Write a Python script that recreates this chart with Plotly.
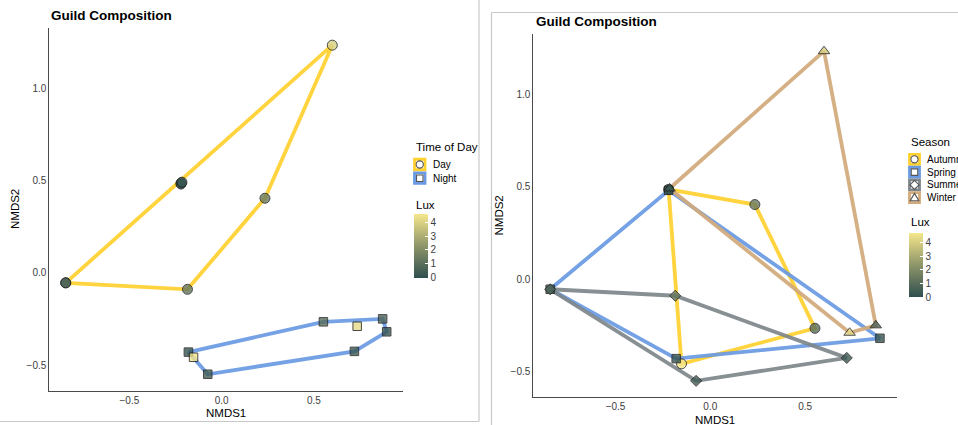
import plotly.graph_objects as go

W, H = 958, 425

# NMDS ordination scores for 16 samples
nmds1 = [0.600, -0.220, -0.220, -0.215, 0.235, -0.845, -0.845, -0.185,
         -0.180, -0.152, -0.075, 0.552, 0.720, 0.735, 0.873, 0.895]
nmds2 = [1.232, 0.485, 0.480, 0.490, 0.403, -0.055, -0.055, -0.090,
         -0.430, -0.458, -0.550, -0.266, -0.426, -0.290, -0.250, -0.320]
time_of_day = ["Day"] * 8 + ["Night"] * 8
season = ["Winter", "Autumn", "Spring", "Winter", "Autumn", "Spring", "Summer", "Summer",
          "Spring", "Autumn", "Summer", "Autumn", "Summer", "Winter", "Winter", "Spring"]
lux = [4.0, 0.1, 0.1, 0.3, 1.4, 0.8, 0.6, 1.3,
       0.2, 4.6, 0.5, 1.0, 0.3, 4.3, 0.7, 0.2]

time_levels = ["Day", "Night"]
season_levels = ["Autumn", "Spring", "Summer", "Winter"]
lux_ticks = [0, 1, 2, 3, 4]
axis_ticks_x = [-0.5, 0.0, 0.5]
axis_ticks_y = [-0.5, 0.0, 0.5, 1.0]

group_colors = {"Day": "#FFD12E", "Night": "#6A9AE3",
                "Autumn": "#FFD12E", "Spring": "#6A9AE3",
                "Summer": "#7E878C", "Winter": "#D2AA7B"}
group_symbols = {"Day": "circle", "Night": "square",
                 "Autumn": "circle", "Spring": "square",
                 "Summer": "diamond", "Winter": "triangle-up"}
symbol_sizes = {"circle": 10, "square": 8.5, "diamond": 8.5, "triangle-up": 10}

FONT = "Liberation Sans"
lux_scale = [[0.0, "#2F4F4F"], [0.5, "#8E9569"], [1.0, "#F5E78C"]]


def px(x):
    return x / W


def py(y):
    return 1 - y / H


def convex_hull(points):
    pts = sorted(set(points))
    if len(pts) < 3:
        return pts

    def cross(o, a, b):
        return (a[0] - o[0]) * (b[1] - o[1]) - (a[1] - o[1]) * (b[0] - o[0])

    lower, upper = [], []
    for p in pts:
        while len(lower) >= 2 and cross(lower[-2], lower[-1], p) <= 0:
            lower.pop()
        lower.append(p)
    for p in reversed(pts):
        while len(upper) >= 2 and cross(upper[-2], upper[-1], p) <= 0:
            upper.pop()
        upper.append(p)
    return lower[:-1] + upper[:-1]


fig = go.Figure()


def add_panel(groups, levels, xa, ya, cax):
    # hull outlines
    for g in levels:
        idx = [i for i, v in enumerate(groups) if v == g]
        hull = convex_hull([(nmds1[i], nmds2[i]) for i in idx])
        hull = hull + hull[:1]
        fig.add_trace(go.Scatter(
            x=[p[0] for p in hull], y=[p[1] for p in hull], mode="lines",
            line=dict(color=group_colors[g], width=3.8), opacity=0.92,
            xaxis=xa, yaxis=ya, hoverinfo="skip", showlegend=False))
    # sample points coloured by lux
    for g in levels:
        idx = [i for i, v in enumerate(groups) if v == g]
        sym = group_symbols[g]
        fig.add_trace(go.Scatter(
            x=[nmds1[i] for i in idx], y=[nmds2[i] for i in idx], mode="markers",
            marker=dict(symbol=sym, size=symbol_sizes[sym], color=[lux[i] for i in idx],
                        coloraxis=cax, opacity=0.8,
                        line=dict(color="#1E1E1E", width=1)),
            xaxis=xa, yaxis=ya, showlegend=False, name=g))


add_panel(time_of_day, time_levels, "x", "y", "coloraxis")
add_panel(season, season_levels, "x2", "y2", "coloraxis2")

xrange = [-0.934, 0.985]
yrange = [-0.639, 1.325]

axis_common = dict(showgrid=False, zeroline=False, showline=True, linecolor="#4A4A4A",
                   linewidth=1, ticks="", tickfont=dict(family=FONT, size=10, color="#404040"),
                   automargin=False, fixedrange=True)


def tick_text(vals):
    return [("\u2212" if v < 0 else "") + f"{abs(v):.1f}" for v in vals]


fig.update_layout(
    xaxis=dict(domain=[px(49.3), px(403.3)], range=xrange, anchor="y",
               tickvals=axis_ticks_x, ticktext=tick_text(axis_ticks_x), **axis_common),
    yaxis=dict(domain=[py(390.7), py(28)], range=yrange, anchor="x",
               tickvals=axis_ticks_y, ticktext=tick_text(axis_ticks_y), **axis_common),
    xaxis2=dict(domain=[px(533.3), px(897)], range=xrange, anchor="y2",
                tickvals=axis_ticks_x, ticktext=tick_text(axis_ticks_x), **axis_common),
    yaxis2=dict(domain=[py(397.3), py(34)], range=yrange, anchor="x2",
                tickvals=axis_ticks_y, ticktext=tick_text(axis_ticks_y), **axis_common),
)


def colorbar(x, ycenter, length):
    return dict(x=px(x), xanchor="left", y=py(ycenter), yanchor="middle",
                len=length, lenmode="pixels", thickness=13.5, thicknessmode="pixels",
                xpad=0, ypad=0, outlinewidth=0, tickvals=lux_ticks,
                ticks="inside", ticklen=3, tickcolor="white",
                tickfont=dict(family=FONT, size=10, color="#404040"))


fig.update_layout(
    coloraxis=dict(colorscale=lux_scale, cmin=0, cmax=4.65,
                   colorbar=colorbar(414.3, 245.5, 64.4)),
    coloraxis2=dict(colorscale=lux_scale, cmin=0, cmax=4.65,
                    colorbar=colorbar(909, 265.3, 64.0)),
)

annotations = []
shapes = []


def text(x, y, s, size, xanchor="left", color="#000000", angle=0):
    annotations.append(dict(x=px(x), y=py(y), xref="paper", yref="paper", text=s,
                            showarrow=False, xanchor=xanchor, yanchor="middle",
                            textangle=angle,
                            font=dict(family=FONT, size=size, color=color)))


# titles and axis titles
text(49.3, 15.5, "<b>Guild Composition</b>", 13.5)
text(534, 21, "<b>Guild Composition</b>", 13.5)
text(226, 412.5, "NMDS1", 11.5, xanchor="center")
text(715, 419.5, "NMDS1", 11.5, xanchor="center")
text(15, 209, "NMDS2", 11.5, xanchor="center", angle=-90)
text(498, 215.5, "NMDS2", 11.5, xanchor="center", angle=-90)


def key_symbol(sym, cx, cy, r):
    style = dict(xref="paper", yref="paper", line=dict(color="#555555", width=1.1),
                 fillcolor="rgba(255,255,255,0.6)")
    if sym == "circle":
        shapes.append(dict(type="circle", x0=px(cx - r), x1=px(cx + r),
                           y0=py(cy + r), y1=py(cy - r), **style))
    elif sym == "square":
        s = r * 0.9
        shapes.append(dict(type="rect", x0=px(cx - s), x1=px(cx + s),
                           y0=py(cy + s), y1=py(cy - s), **style))
    elif sym == "diamond":
        d = r * 1.25
        path = (f"M {px(cx)} {py(cy - d)} L {px(cx + d)} {py(cy)} "
                f"L {px(cx)} {py(cy + d)} L {px(cx - d)} {py(cy)} Z")
        shapes.append(dict(type="path", path=path, **style))
    else:
        t = r * 1.2
        path = (f"M {px(cx)} {py(cy - t)} L {px(cx + t)} {py(cy + t * 0.7)} "
                f"L {px(cx - t)} {py(cy + t * 0.7)} Z")
        shapes.append(dict(type="path", path=path, **style))


def legend(title, levels, x0, ty, ky0, step, box):
    text(x0, ty, title, 11.5)
    for k, g in enumerate(levels):
        cy = ky0 + k * step
        cx = x0 + box / 2 + 0.5
        shapes.append(dict(type="rect", xref="paper", yref="paper",
                           x0=px(cx - box / 2), x1=px(cx + box / 2),
                           y0=py(cy + box / 2), y1=py(cy - box / 2),
                           line=dict(color=group_colors[g], width=2.8),
                           fillcolor="white"))
        key_symbol(group_symbols[g], cx, cy, 3.6)
        text(x0 + box + 6, cy, g, 10)


legend("Time of Day", time_levels, 414, 147, 164.5, 13.7, 10.5)
text(414, 204.5, "Lux", 11.5)
legend("Season", season_levels, 909, 141.5, 159.3, 12.8, 10)
text(909, 221.7, "Lux", 11.5)

# frames around the two panels
frame = dict(color="#C8C8C8", width=1.2)
shapes += [
    dict(type="line", xref="paper", yref="paper", x0=px(479), x1=px(479), y0=py(0), y1=py(421.5), line=frame),
    dict(type="line", xref="paper", yref="paper", x0=px(0), x1=px(479), y0=py(421.5), y1=py(421.5), line=frame),
    dict(type="line", xref="paper", yref="paper", x0=px(491.5), x1=px(491.5), y0=py(12.5), y1=py(425), line=frame),
    dict(type="line", xref="paper", yref="paper", x0=px(491.5), x1=px(958), y0=py(12.5), y1=py(12.5), line=frame),
]

fig.update_layout(
    width=W, height=H, margin=dict(l=0, r=0, t=0, b=0, pad=0, autoexpand=False),
    paper_bgcolor="white", plot_bgcolor="white", showlegend=False,
    annotations=annotations, shapes=shapes,
    font=dict(family=FONT),
)

fig.write_html("out.html")
